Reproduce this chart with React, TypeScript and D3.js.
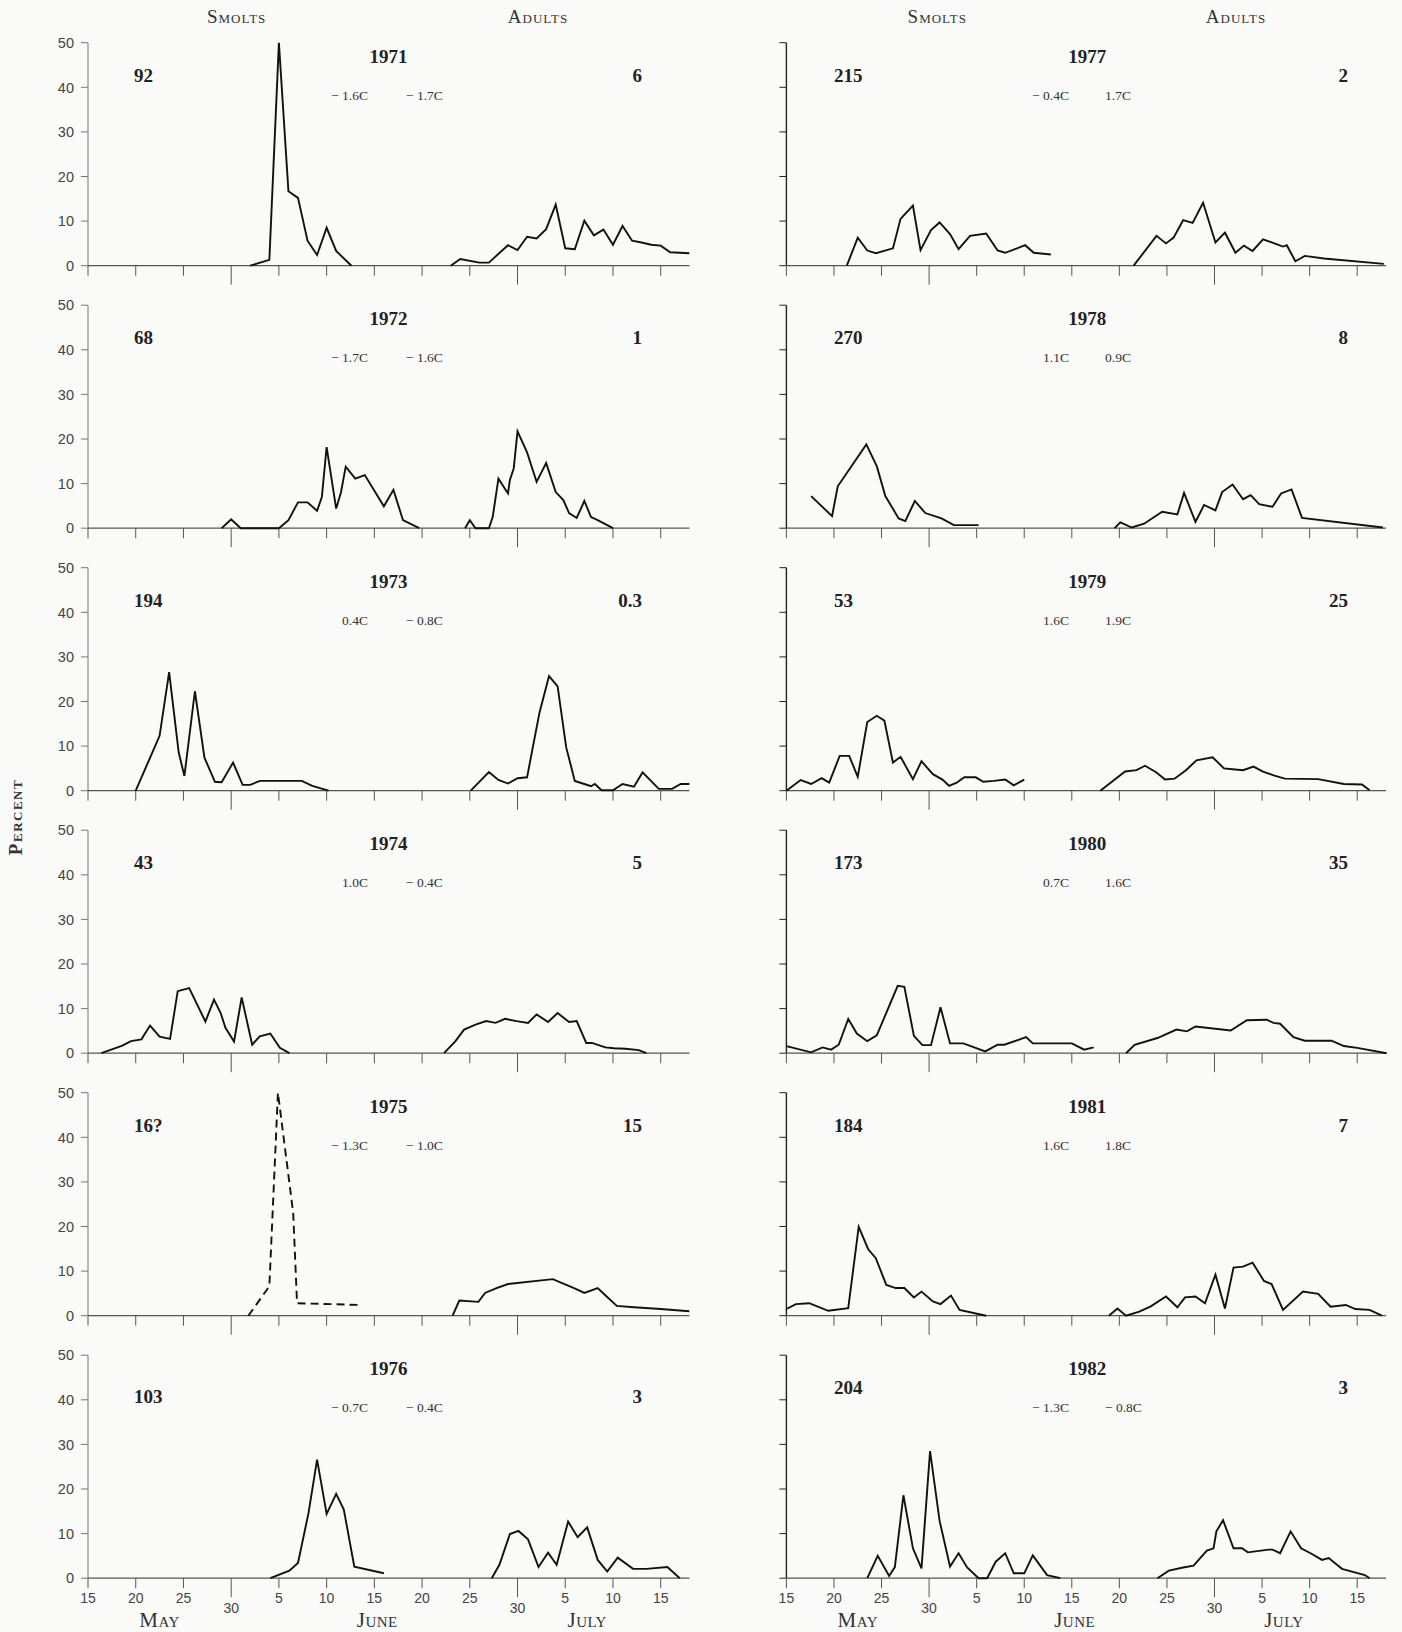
import React from "react";
import * as d3 from "d3";

type P = [number, number];

// x unit: 5 units per date tick, 0 = May 15, 60 = July 15
const years = [1971, 1972, 1973, 1974, 1975, 1976, 1977, 1978, 1979, 1980, 1981, 1982];
const smoltCounts = ["92", "68", "194", "43", "16?", "103", "215", "270", "53", "173", "184", "204"];
const adultCounts = ["6", "1", "0.3", "5", "15", "3", "2", "8", "25", "35", "7", "3"];
const smoltTemps = ["\u2212 1.6C", "\u2212 1.7C", "0.4C", "1.0C", "\u2212 1.3C", "\u2212 0.7C", "\u2212 0.4C", "1.1C", "1.6C", "0.7C", "1.6C", "\u2212 1.3C"];
const adultTemps = ["\u2212 1.7C", "\u2212 1.6C", "\u2212 0.8C", "\u2212 0.4C", "\u2212 1.0C", "\u2212 0.4C", "1.7C", "0.9C", "1.9C", "1.6C", "1.8C", "\u2212 0.8C"];

const smolts1971: P[] = [[17, 0], [19, 1.3], [20, 50], [21, 16.7], [22, 15.2], [23, 5.6], [24, 2.4], [25, 8.5], [26, 3.3], [27.6, 0]];
const adults1971: P[] = [[38, 0], [39, 1.5], [41, 0.7], [42, 0.7], [44, 4.6], [45, 3.5], [46, 6.5], [47, 6.1], [48, 8.2], [49, 13.7], [50, 3.9], [51, 3.7], [52, 10.1], [53, 6.8], [54, 8.1], [55, 4.7], [56, 8.9], [57, 5.6], [58, 5.2], [59, 4.7], [60, 4.5], [61, 3.0], [63, 2.8]];

const smolts1972: P[] = [[14, 0], [15, 2.0], [16, 0], [20, 0], [21, 1.8], [22, 5.8], [23, 5.8], [24, 3.9], [24.5, 7], [25, 18.2], [26, 4.4], [26.5, 8], [27, 13.8], [28, 11.1], [29, 11.9], [31, 4.9], [32, 8.6], [33, 1.8], [34.7, 0]];
const adults1972: P[] = [[39.5, 0], [40, 1.8], [40.6, 0], [42, 0], [42.4, 2.5], [43, 11.1], [44, 7.8], [44.2, 10.8], [44.6, 13.4], [45, 21.7], [46, 17], [47, 10.4], [48, 14.6], [49, 8.1], [49.8, 6.3], [50.4, 3.4], [51.2, 2.3], [52, 6.1], [52.7, 2.5], [53.4, 1.8], [55, 0]];

const smolts1973: P[] = [[5, 0], [7.5, 12.3], [8.5, 26.6], [9.5, 8.6], [10.1, 3.3], [11.2, 22.3], [12.2, 7.4], [13.3, 2.0], [14, 1.9], [15.2, 6.3], [16.2, 1.3], [17, 1.3], [18, 2.2], [22.4, 2.2], [23.5, 1.1], [25.2, 0]];
const adults1973: P[] = [[40.1, 0], [42, 4.2], [43, 2.4], [44, 1.6], [45, 2.8], [46, 3.0], [47.3, 17.5], [48.3, 25.7], [49.2, 23.4], [50.1, 9.7], [51, 2.2], [52, 1.5], [52.7, 1.0], [53.1, 1.5], [53.8, 0.1], [55, 0.1], [56, 1.5], [57.2, 0.9], [58.1, 4.1], [59.8, 0.4], [61.2, 0.4], [62.1, 1.5], [63, 1.5]];

const smolts1974: P[] = [[1.4, 0], [3.6, 1.7], [4.5, 2.7], [5.6, 3.1], [6.5, 6.2], [7.5, 3.7], [8.6, 3.2], [9.4, 13.9], [10.6, 14.6], [12.3, 7.1], [13.2, 12.0], [13.9, 9.0], [14.4, 5.7], [15.3, 2.6], [16.1, 12.5], [17.2, 1.9], [18, 3.8], [19.1, 4.4], [20.1, 1.2], [21.1, 0]];
const adults1974: P[] = [[37.3, 0], [38.5, 2.7], [39.4, 5.3], [40.6, 6.4], [41.7, 7.2], [42.7, 6.8], [43.7, 7.7], [44.9, 7.2], [46.1, 6.8], [47, 8.7], [48.2, 7.0], [49.2, 9.0], [50.4, 7.0], [51.2, 7.2], [52.2, 2.3], [52.8, 2.3], [54.2, 1.3], [55.1, 1.1], [56.3, 1.0], [57.7, 0.7], [58.5, 0]];

const smolts1975: P[] = [[16.8, 0], [19, 6.6], [19.9, 50], [21.5, 23], [21.9, 2.8], [28.6, 2.4]];
const adults1975: P[] = [[38.2, 0], [38.9, 3.4], [40.9, 3.1], [41.6, 5.1], [42.8, 6.2], [44, 7.1], [48.7, 8.2], [51.1, 6.0], [52, 5.1], [53.4, 6.2], [54.2, 4.6], [55.4, 2.2], [57.2, 1.9], [60, 1.5], [63, 1.0]];

const smolts1976: P[] = [[19.1, 0], [21.1, 1.7], [22, 3.4], [23.1, 14.6], [24, 26.6], [25, 14.4], [26, 18.9], [26.8, 15.4], [27.9, 2.6], [31, 1.1]];
const adults1976: P[] = [[42.3, 0], [43.1, 3.0], [44.2, 9.9], [45.1, 10.6], [46.1, 8.7], [47.2, 2.5], [48.2, 5.7], [49.1, 3.0], [50.3, 12.7], [51.3, 9.2], [52.3, 11.4], [53.4, 4.1], [54.4, 1.5], [55.5, 4.6], [57.1, 2.1], [58.5, 2.1], [60.7, 2.5], [62, 0]];

const smolts1977: P[] = [[6.35, 0], [7.5, 6.3], [8.5, 3.4], [9.4, 2.8], [11.2, 3.9], [12, 10.5], [13.3, 13.5], [14.1, 3.5], [15.2, 8.0], [16.1, 9.7], [17.2, 7.1], [18.1, 3.7], [19.3, 6.7], [21, 7.2], [22.2, 3.4], [23, 2.9], [25.1, 4.6], [26, 2.9], [27.8, 2.5]];
const adults1977: P[] = [[36.5, 0], [38.9, 6.7], [39.9, 5.0], [40.7, 6.3], [41.7, 10.2], [42.7, 9.6], [43.8, 14.1], [45.1, 5.2], [46.1, 7.4], [47.2, 2.9], [48.1, 4.5], [49, 3.3], [50.1, 5.9], [51.3, 5.0], [52.2, 4.3], [52.6, 4.6], [53.5, 1.0], [54.5, 2.2], [56.5, 1.6], [62.8, 0.4]];

const smolts1978: P[] = [[2.6, 7.2], [4.8, 2.7], [5.4, 9.4], [8.4, 18.8], [9.5, 13.9], [10.4, 7.2], [11.8, 2.2], [12.5, 1.6], [13.5, 6.1], [14.6, 3.4], [16.3, 2.2], [17.6, 0.7], [20.2, 0.7]];
const adults1978: P[] = [[34.5, 0], [35.1, 1.3], [36.3, 0.15], [37.6, 1.0], [39.5, 3.7], [41.1, 3.1], [41.8, 7.9], [43, 1.4], [43.9, 5.2], [45.1, 4.0], [45.8, 8.1], [46.9, 9.8], [48, 6.5], [48.8, 7.4], [49.7, 5.4], [51.1, 4.8], [52, 7.8], [53.1, 8.7], [54.2, 2.3], [62.7, 0.15]];

const smolts1979: P[] = [[0, 0], [1.5, 2.4], [2.6, 1.5], [3.7, 2.8], [4.5, 1.8], [5.6, 7.8], [6.6, 7.8], [7.5, 3.1], [8.5, 15.4], [9.5, 16.8], [10.3, 15.7], [11.2, 6.3], [12, 7.6], [13.3, 2.6], [14.2, 6.6], [15.4, 3.7], [16.4, 2.5], [17.1, 1.1], [17.9, 1.8], [18.7, 3.0], [19.9, 3.0], [20.7, 2.0], [21.8, 2.2], [23, 2.5], [23.9, 1.2], [25, 2.5]];
const adults1979: P[] = [[33, 0], [35.6, 4.3], [36.8, 4.6], [37.7, 5.6], [38.9, 4.1], [39.8, 2.5], [40.8, 2.7], [42, 4.6], [43.1, 6.8], [44.8, 7.5], [46, 5.0], [46.9, 4.8], [48, 4.6], [49.1, 5.4], [50.1, 4.3], [51.3, 3.4], [52.4, 2.7], [55.9, 2.6], [58.6, 1.5], [60.5, 1.4], [61.3, 0.1]];

const smolts1980: P[] = [[0, 1.6], [2.6, 0.2], [3.8, 1.3], [4.7, 0.8], [5.5, 1.9], [6.5, 7.7], [7.4, 4.4], [8.5, 2.7], [9.5, 4.0], [11.7, 15.1], [12.4, 14.9], [13.4, 3.9], [14.3, 1.8], [15.2, 1.8], [16.2, 10.3], [17.2, 2.2], [18.6, 2.2], [20.9, 0.4], [22.2, 1.9], [22.9, 1.9], [25.2, 3.6], [25.9, 2.2], [30, 2.2], [31.3, 0.8], [32.3, 1.3]];
const adults1980: P[] = [[35.7, 0], [36.6, 1.9], [39, 3.4], [41, 5.3], [42.1, 4.9], [43, 6.0], [46.7, 5.1], [48.4, 7.4], [50.5, 7.5], [51.2, 6.8], [51.9, 6.6], [53.3, 3.6], [54.5, 2.8], [57.3, 2.8], [58.6, 1.6], [60, 1.2], [63.1, 0]];

const smolts1981: P[] = [[0, 1.5], [1, 2.6], [2.4, 2.8], [4.4, 1.1], [6.5, 1.7], [7.6, 19.9], [8.6, 14.9], [9.4, 12.9], [10.5, 6.9], [11.5, 6.2], [12.4, 6.2], [13.4, 4.1], [14.2, 5.4], [15.4, 3.2], [16.2, 2.6], [17.3, 4.5], [18.2, 1.3], [21, 0]];
const adults1981: P[] = [[33.9, 0], [34.8, 1.6], [35.7, 0], [37.1, 0.9], [38.3, 2.1], [39.9, 4.3], [41.1, 1.9], [41.9, 4.1], [43, 4.3], [44, 2.8], [45.1, 9.2], [46.1, 1.6], [47, 10.8], [48, 11.0], [49, 11.9], [50.2, 7.8], [51, 7.1], [52.2, 1.3], [54.3, 5.4], [55.9, 4.9], [57.2, 2.0], [58.8, 2.4], [59.8, 1.5], [61.3, 1.3], [62.6, 0]];

const smolts1982: P[] = [[8.5, 0], [9.6, 5.0], [10.8, 0.5], [11.4, 2.5], [12.3, 18.6], [13.3, 6.7], [14.2, 2.2], [15.1, 28.5], [16.1, 12.9], [17.2, 2.6], [18.1, 5.6], [19, 2.4], [20.2, 0], [21.1, 0], [22, 3.7], [23, 5.6], [23.9, 1.1], [25, 1.1], [25.9, 5.1], [27.4, 0.7], [28.8, 0]];
const adults1982: P[] = [[39, 0], [40.2, 1.7], [41.7, 2.4], [42.8, 2.8], [44.2, 6.2], [44.9, 6.7], [45.2, 10.5], [45.9, 13.0], [47, 6.7], [47.9, 6.7], [48.5, 5.8], [50.7, 6.4], [51.1, 6.4], [51.9, 5.6], [53, 10.5], [54.1, 6.7], [55.1, 5.6], [56.3, 4.1], [57, 4.5], [58.4, 2.1], [60.8, 0.7], [61.3, 0]];

const smolts: P[][] = [smolts1971, smolts1972, smolts1973, smolts1974, smolts1975, smolts1976, smolts1977, smolts1978, smolts1979, smolts1980, smolts1981, smolts1982];
const adults: P[][] = [adults1971, adults1972, adults1973, adults1974, adults1975, adults1976, adults1977, adults1978, adults1979, adults1980, adults1981, adults1982];
const dashedSmolts = [false, false, false, false, true, false, false, false, false, false, false, false];

const yTicks = [0, 10, 20, 30, 40, 50];
const xTicks = [0, 5, 10, 15, 20, 25, 30, 35, 40, 45, 50, 55, 60];
const xTickLabels = ["15", "20", "25", "30", "5", "10", "15", "20", "25", "30", "5", "10", "15"];
const longTicks = [15, 45];
const months = ["May", "June", "July"];
const monthPos = [7.5, 30.3, 52.3];

const SERIF = "'Liberation Serif', 'Times New Roman', serif";
const SANS = "'Liberation Sans', Arial, sans-serif";

const cols = [
  { x0: 88, x1: 660.7, end: 689.5, yLabels: true, yearX: 388.4, countL: 134, countR: 642, tempA: 368, tempB: 406, smoltsHead: 236.6, adultsHead: 538, axisColor: "#777", axisW: 1 },
  { x0: 786.4, x1: 1357.2, end: 1386, yLabels: false, yearX: 1087.3, countL: 834, countR: 1348, tempA: 1069, tempB: 1105, smoltsHead: 937.3, adultsHead: 1236, axisColor: "#222", axisW: 1.4 },
];

const PH = 223;
const rowTop = (r: number) => 42.7 + r * 262.5;

export default function App() {
  const W = 1402, H = 1632;
  const panels = years.map((yr, i) => {
    const c = cols[i < 6 ? 0 : 1];
    const r = i % 6;
    const top = rowTop(r);
    const x = d3.scaleLinear().domain([0, 60]).range([c.x0, c.x1]);
    const y = d3.scaleLinear().domain([0, 50]).range([top + PH, top]);
    const line = d3.line<P>().x((d) => x(d[0])).y((d) => y(d[1]));
    const y0 = y(0);
    const countY = yr === 1976 ? top + 48 : top + 39;
    return (
      <g key={yr}>
        <line x1={x(0)} x2={x(0)} y1={y(0)} y2={y(50)} stroke={c.axisColor} strokeWidth={c.axisW} />
        {yTicks.map((t) => (
          <g key={t}>
            <line x1={x(0) - 7} x2={x(0)} y1={y(t)} y2={y(t)} stroke={c.axisColor} strokeWidth={1} />
            {c.yLabels && (
              <text x={x(0) - 14} y={y(t)} dy="0.36em" textAnchor="end" fontFamily={SANS} fontSize={14.5} fill="#444">
                {t}
              </text>
            )}
          </g>
        ))}
        <line x1={x(0)} x2={c.end} y1={y0} y2={y0} stroke="#555" strokeWidth={1.2} />
        {xTicks.map((t, k) => (
          <g key={t}>
            <line x1={x(t)} x2={x(t)} y1={y0} y2={y0 + (longTicks.includes(t) ? 19 : 10)} stroke="#555" strokeWidth={1} />
            {r === 5 && (
              <text x={x(t)} y={y0 + (longTicks.includes(t) ? 35 : 24.5)} textAnchor="middle" fontFamily={SANS} fontSize={14} fill="#444">
                {xTickLabels[k]}
              </text>
            )}
          </g>
        ))}
        {r === 5 &&
          months.map((m, k) => (
            <text key={m} x={x(monthPos[k])} y={y0 + 49} textAnchor="middle" fontFamily={SERIF} fontSize={21} fill="#333" letterSpacing={0.5} style={{ fontVariant: "small-caps" }}>
              {m}
            </text>
          ))}
        <path d={line(smolts[i]) || ""} fill="none" stroke="#111" strokeWidth={1.9} strokeLinejoin="miter" strokeDasharray={dashedSmolts[i] ? "8 5" : undefined} />
        <path d={line(adults[i]) || ""} fill="none" stroke="#111" strokeWidth={1.9} strokeLinejoin="miter" />
        <text x={c.yearX} y={top + 20} textAnchor="middle" fontFamily={SERIF} fontSize={19} fontWeight="bold" fill="#222">
          {yr}
        </text>
        <text x={c.countL} y={countY} textAnchor="start" fontFamily={SERIF} fontSize={19} fontWeight="bold" fill="#222">
          {smoltCounts[i]}
        </text>
        <text x={c.countR} y={countY} textAnchor="end" fontFamily={SERIF} fontSize={19} fontWeight="bold" fill="#222">
          {adultCounts[i]}
        </text>
        <text x={c.tempA} y={top + 57} textAnchor="end" fontFamily={SERIF} fontSize={13.5} fill="#333">
          {smoltTemps[i]}
        </text>
        <text x={c.tempB} y={top + 57} textAnchor="start" fontFamily={SERIF} fontSize={13.5} fill="#333">
          {adultTemps[i]}
        </text>
      </g>
    );
  });

  return (
    <svg width={W} height={H} style={{ position: "absolute", left: 0, top: 0, background: "#fafaf8" }}>
      <rect x={0} y={0} width={W} height={H} fill="#fafaf8" />
      {cols.map((c, k) => (
        <g key={k}>
          <text x={c.smoltsHead} y={23} textAnchor="middle" fontFamily={SERIF} fontSize={19} fill="#333" letterSpacing={1} style={{ fontVariant: "small-caps" }}>
            Smolts
          </text>
          <text x={c.adultsHead} y={23} textAnchor="middle" fontFamily={SERIF} fontSize={19} fill="#333" letterSpacing={1} style={{ fontVariant: "small-caps" }}>
            Adults
          </text>
        </g>
      ))}
      <text transform="translate(22,817) rotate(-90)" textAnchor="middle" fontFamily={SERIF} fontSize={19} fontWeight="bold" fill="#333" letterSpacing={1.5} style={{ fontVariant: "small-caps" }}>
        Percent
      </text>
      {panels}
    </svg>
  );
}
